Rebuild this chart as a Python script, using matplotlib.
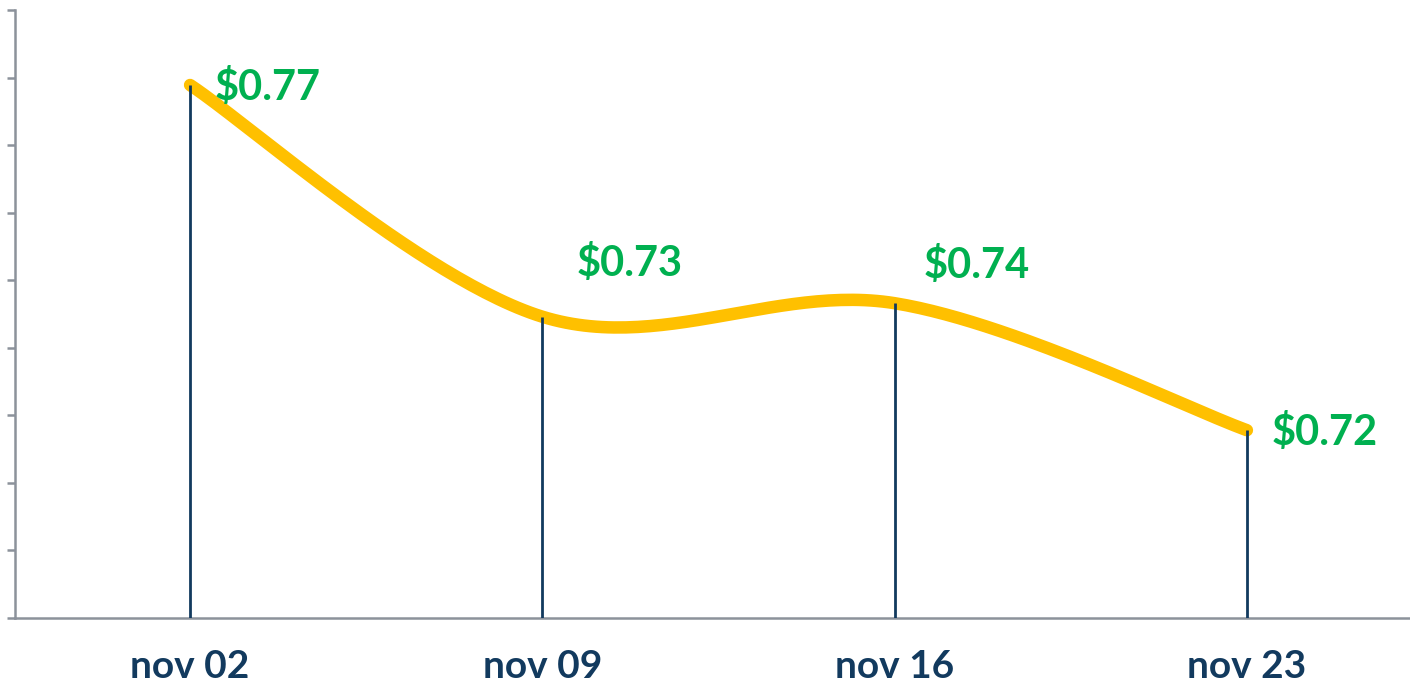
import matplotlib.pyplot as plt
import numpy as np

# weekly price points
dates = ["nov 02", "nov 09", "nov 16", "nov 23"]
prices = [0.7689, 0.7346, 0.7366, 0.7178]
price_labels = ["$0.77", "$0.73", "$0.74", "$0.72"]

# label offsets in points (dx, dy) relative to each point
label_offsets = [(18, -2), (25, 38), (21, 27), (18, -2)]

LINE_COLOR = "#FFC000"
LABEL_COLOR = "#00B050"
NAVY = "#123A5E"
AXIS_GRAY = "#8C929B"

plt.rcParams["font.family"] = ["Lato", "DejaVu Sans"]


def catmull_rom(x, y, n=60):
    # smoothed line like office charts draw it
    x = np.asarray(x, float)
    y = np.asarray(y, float)
    px = np.concatenate([[x[0]], x, [x[-1]]])
    py = np.concatenate([[y[0]], y, [y[-1]]])
    xs, ys = [], []
    for i in range(1, len(px) - 2):
        t = np.linspace(0, 1, n)
        t2, t3 = t * t, t * t * t
        for p, out in ((px, xs), (py, ys)):
            p0, p1, p2, p3 = p[i - 1], p[i], p[i + 1], p[i + 2]
            out.append(0.5 * ((2 * p1) + (-p0 + p2) * t
                              + (2 * p0 - 5 * p1 + 4 * p2 - p3) * t2
                              + (-p0 + 3 * p1 - 3 * p2 + p3) * t3))
    return np.concatenate(xs), np.concatenate(ys)


fig = plt.figure(figsize=(14.1, 6.83), dpi=100)
ax = fig.add_axes([15 / 1410, 65 / 683, 1395 / 1410, 608 / 683])

xpos = np.arange(len(dates))
sx, sy = catmull_rom(xpos, prices)

ymin = 0.69
ax.vlines(xpos, ymin, prices, color=NAVY, lw=2, zorder=4)
ax.plot(sx, sy, color=LINE_COLOR, lw=9, solid_capstyle="round", zorder=3)

for x, p, lab, (dx, dy) in zip(xpos, prices, price_labels, label_offsets):
    ax.annotate(lab, (x, p), xytext=(dx, dy), textcoords="offset points",
                ha="left", va="center", fontsize=30, fontweight="bold",
                color=LABEL_COLOR, zorder=5)

ax.set_xlim(-0.497, 3.463)
ax.set_ylim(ymin, 0.78)
ax.set_yticks(np.arange(0.69, 0.7801, 0.01))
ax.set_yticklabels([])
ax.set_xticks(xpos)
ax.set_xticklabels(dates, fontsize=28, fontweight="bold", color=NAVY)
ax.tick_params(axis="x", length=0, pad=22)
ax.tick_params(axis="y", length=6, width=1.8, color=AXIS_GRAY, direction="out")

for side in ("top", "right"):
    ax.spines[side].set_visible(False)
for side in ("left", "bottom"):
    ax.spines[side].set_color(AXIS_GRAY)
    ax.spines[side].set_linewidth(1.8)
ax.spines["left"].set_zorder(1)

fig.savefig("out.png", dpi=100)
